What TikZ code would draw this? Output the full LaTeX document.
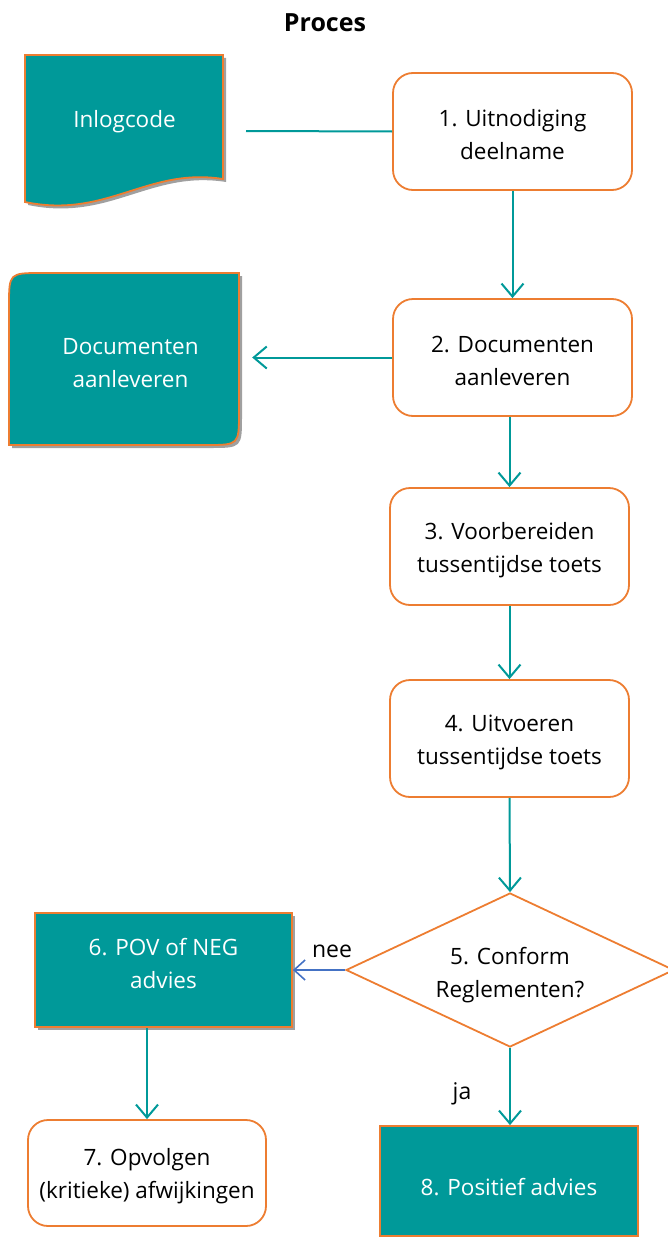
\documentclass[tikz,border=0pt]{standalone}
\usepackage{fontspec}
\setmainfont{Open Sans}
\usetikzlibrary{arrows.meta,shapes.geometric}
\definecolor{teal1}{HTML}{009999}
\definecolor{orng}{HTML}{ED7D31}
\definecolor{shd}{HTML}{A0A0A0}
\definecolor{blu}{HTML}{4472C4}
\begin{document}
\begin{tikzpicture}[x=1pt,y=-1pt,
  txt/.style={font=\fontsize{22.5}{33}\selectfont, align=center, inner sep=0pt},
  stepbox/.style={draw=orng, line width=1.8pt, rounded corners=20pt, fill=white,
     minimum width=239pt, minimum height=117pt},
  tealbox/.style={draw=orng, line width=1.8pt, fill=teal1, inner sep=0pt},
  conn/.style={draw=teal1, line width=2pt},
  arr/.style={conn, -{Straight Barb[length=13pt,width=22pt,line width=2pt]}},
  lbl/.style={font=\fontsize{23}{26}\selectfont, inner sep=0pt}
]
\useasboundingbox (0,0) rectangle (667,1239);

% title
\node[font=\fontsize{25}{28}\bfseries\selectfont] (title) at (325,23) {Proces};

% Inlogcode document shape
\fill[shd] (28,58) -- (226,58) -- (226,182) .. controls (150,170) and (110,222) .. (28,205) -- cycle;
\draw[orng, line width=1.8pt, fill=teal1] (25,55) -- (223,55) -- (223,179) .. controls (147,167) and (107,219) .. (25,202) -- cycle;
\node[txt, text=white] (inlog) at (124.5,122) {Inlogcode};

% Documenten aanleveren shape
\fill[shd] (12,448) -- (12,309) .. controls (12,276) .. (45,276) -- (242,276) -- (242,415) .. controls (242,448) .. (209,448) -- cycle;
\draw[orng, line width=1.8pt, fill=teal1] (9,445) -- (9,306) .. controls (9,273) .. (42,273) -- (239,273) -- (239,412) .. controls (239,445) .. (206,445) -- cycle;
\node[txt, text=white, minimum width=243pt] (docs) at (130.5,363) {Documenten\\aanleveren};

% step boxes
\node[stepbox] (b1) at (512.5,131.5) {};
\node[txt] (b1t) at (512.5,135) {1. Uitnodiging\\deelname};
\node[stepbox] (b2) at (512.5,357.5) {};
\node[txt] (b2t) at (512.5,361) {2. Documenten\\aanleveren};
\node[stepbox] (b3) at (509.5,546.5) {};
\node[txt] (b3t) at (509.5,550) {3. Voorbereiden\\tussentijdse toets};
\node[stepbox] (b4) at (509.5,738.5) {};
\node[txt] (b4t) at (509.5,742) {4. Uitvoeren\\tussentijdse toets};

% diamond
\node[draw=orng, line width=1.8pt, diamond, aspect=2.1, minimum width=328pt, minimum height=154pt, inner sep=0pt] (d5) at (510,970) {};
\node[txt] (d5t) at (510,975) {5. Conform\\Reglementen?};

% box 6
\fill[shd] (38,916) rectangle (295,1030);
\node[tealbox, minimum width=257pt, minimum height=114pt] (b6) at (163.5,970) {};
\node[txt, text=white] (b6t) at (163.5,963) {6. POV of NEG\\advies};

% box 7
\node[stepbox, minimum width=238pt, minimum height=106pt] (b7) at (147,1173) {};
\node[txt] (b7t) at (147,1176) {7. Opvolgen\\(kritieke) afwijkingen};

% box 8
\node[tealbox, minimum width=258pt, minimum height=110pt] (b8) at (509,1181) {};
\node[txt, text=white] (b8t) at (509,1187) {8. Positief advies};

% connectors
\coordinate (lineend) at (246,131);
\draw[conn] (b1.west) -- (lineend);
\draw[arr] (b1.south) -- (b2.north);
\draw[arr] (b2.west) -- (b2.west -| docs.east);
\draw[arr] (b3.north |- b2.south) -- (b3.north);
\draw[arr] (b3.south) -- (b4.north);
\draw[arr] (b4.south) -- (d5.north);
\draw[blu, line width=1.6pt, -{Straight Barb[length=11pt,width=20pt,line width=1.6pt]}] (d5.west) -- (b6.east);
\draw[arr] (b7.north |- b6.south) -- (b7.north);
\draw[arr] (d5.south) -- (d5.south |- b8.north);

\node[lbl] (nee) at (332,951) {nee};
\node[lbl] (ja) at (462,1094) {ja};
\end{tikzpicture}
\end{document}
